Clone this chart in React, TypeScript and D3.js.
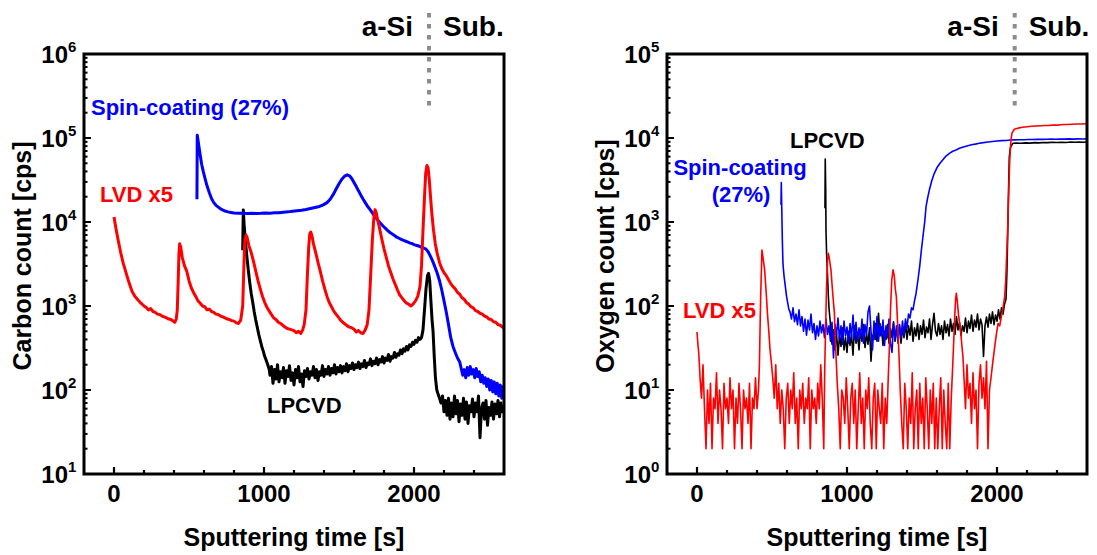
import React from 'react';
import * as d3 from 'd3';

type Pt = [number, number];

// ---------- Carbon (left panel) ----------
const carbonLVD: Pt[] = [
  [0, 11500], [15, 8000], [30, 5800], [45, 4300], [60, 3300], [80, 2500], [100, 1900], [120, 1500], [140, 1300],
  [160, 1180], [180, 1080], [200, 1000], [215, 960], [230, 900], [245, 930], [260, 860], [275, 840], [290, 800],
  [305, 790], [320, 760], [335, 740], [350, 720], [365, 700], [380, 690], [395, 660], [405, 640], [415, 700],
  [422, 900], [428, 2000], [433, 4200], [438, 5500], [445, 5000], [455, 3800], [470, 3000], [485, 2600], [500, 2000],
  [515, 1650], [530, 1450], [545, 1300], [560, 1150], [575, 1080], [590, 1000], [605, 980], [620, 900], [635, 920],
  [650, 860], [665, 840], [680, 800], [695, 790], [710, 760], [725, 740], [740, 720], [755, 700], [770, 690],
  [785, 670], [800, 660], [815, 630], [830, 620], [845, 680], [858, 1000], [866, 3000], [872, 6000], [880, 7000],
  [888, 6500], [900, 5200], [915, 4300], [930, 3400], [945, 2600], [960, 2000], [975, 1600], [990, 1300],
  [1005, 1100], [1020, 960], [1035, 870], [1050, 790], [1065, 720], [1080, 690], [1095, 640], [1110, 620],
  [1125, 590], [1140, 560], [1155, 540], [1170, 530], [1185, 520], [1200, 510], [1215, 480], [1230, 500],
  [1245, 470], [1258, 520], [1268, 600], [1280, 900], [1290, 2500], [1298, 5000], [1305, 7200], [1312, 7600],
  [1320, 6800], [1330, 5500], [1345, 4300], [1360, 3300], [1375, 2600], [1390, 2000], [1405, 1600], [1420, 1300],
  [1435, 1100], [1450, 980], [1465, 870], [1480, 800], [1495, 740], [1510, 680], [1525, 640], [1540, 610],
  [1555, 580], [1570, 560], [1585, 550], [1600, 530], [1615, 490], [1630, 510], [1645, 480], [1660, 470],
  [1675, 520], [1688, 600], [1700, 900], [1712, 2500], [1722, 6000], [1732, 11000], [1740, 14000], [1748, 13000],
  [1758, 10500], [1770, 8500], [1785, 6300], [1800, 4800], [1815, 3800], [1830, 3000], [1845, 2500], [1860, 2100],
  [1875, 1800], [1890, 1550], [1905, 1350], [1920, 1250], [1935, 1150], [1950, 1080], [1965, 1050], [1980, 1000],
  [1995, 1060], [2010, 1150], [2025, 1300], [2040, 1700], [2050, 3000], [2060, 8000], [2070, 20000], [2078, 38000],
  [2086, 47000], [2094, 44000], [2102, 32000], [2110, 20000], [2120, 12000], [2130, 8000], [2142, 5500],
  [2155, 4200], [2170, 3300], [2185, 2800], [2200, 2500], [2215, 2300], [2230, 2050], [2245, 1850], [2260, 1700],
  [2275, 1600], [2290, 1450], [2305, 1380], [2320, 1250], [2335, 1200], [2350, 1100], [2365, 1050], [2380, 980],
  [2395, 950], [2410, 880], [2425, 860], [2440, 820], [2455, 800], [2470, 760], [2485, 740], [2500, 700],
  [2515, 690], [2530, 650], [2545, 640], [2560, 600], [2575, 590], [2590, 560], [2600, 540],
];

const carbonSpin: Pt[] = [
  [553, 18600], [555, 108000], [560, 95000], [566, 80000], [575, 62000], [585, 48000], [595, 40000], [605, 34000],
  [620, 27000], [635, 22500], [650, 19000], [665, 17000], [680, 15800], [700, 14800], [720, 14000], [740, 13500],
  [760, 13200], [780, 13000], [800, 12800], [830, 12700], [860, 12750], [890, 12600], [920, 12700], [950, 12650],
  [980, 12700], [1010, 12800], [1040, 12750], [1070, 12900], [1100, 12900], [1130, 13100], [1160, 13200],
  [1190, 13400], [1220, 13600], [1250, 13800], [1280, 14100], [1310, 14500], [1340, 14900], [1370, 15300],
  [1395, 16000], [1420, 17000], [1440, 18500], [1460, 21000], [1480, 24500], [1500, 28500], [1520, 32500],
  [1540, 35500], [1555, 36500], [1570, 35500], [1585, 33000], [1600, 29500], [1615, 26500], [1630, 23500],
  [1645, 21000], [1660, 18800], [1675, 17000], [1690, 15400], [1705, 14200], [1720, 13000], [1735, 11900],
  [1750, 11000], [1765, 10200], [1780, 9500], [1795, 8900], [1810, 8400], [1825, 7900], [1840, 7500], [1855, 7200],
  [1870, 6900], [1885, 6600], [1900, 6400], [1915, 6200], [1930, 6050], [1945, 5900], [1960, 5750], [1975, 5600],
  [1990, 5500], [2005, 5350], [2020, 5250], [2035, 5150], [2050, 5000], [2065, 4900], [2080, 4750], [2095, 4400],
  [2110, 3900], [2125, 3400], [2140, 2900], [2155, 2450], [2170, 2000], [2185, 1550], [2200, 1150], [2215, 850],
  [2230, 600], [2245, 420], [2260, 330], [2275, 280], [2290, 240], [2305, 215], [2315, 180], [2325, 150],
  [2335, 175], [2345, 140], [2355, 185], [2365, 150], [2375, 190], [2385, 155], [2395, 175], [2405, 140],
  [2415, 180], [2425, 145], [2435, 165], [2445, 125], [2455, 150], [2465, 120], [2475, 140], [2485, 110],
  [2495, 135], [2505, 100], [2515, 130], [2525, 95], [2535, 125], [2545, 90], [2555, 120], [2565, 85],
  [2575, 115], [2585, 80], [2595, 110], [2600, 95],
];

const carbonLPCVD: Pt[] = [
  [858, 4600], [862, 13900], [868, 9000], [876, 6000], [885, 4000], [895, 2700], [905, 1900], [915, 1400],
  [925, 1100], [935, 850], [945, 680], [955, 560], [965, 460], [975, 390], [985, 330], [995, 290], [1005, 250],
  [1015, 225], [1025, 200], [1035, 175], [1040, 150], [1050, 190], [1060, 120], [1070, 175], [1080, 135],
  [1090, 200], [1100, 125], [1110, 165], [1120, 140], [1130, 185], [1140, 120], [1150, 170], [1160, 145],
  [1170, 195], [1180, 130], [1190, 160], [1200, 115], [1210, 175], [1220, 140], [1230, 190], [1240, 125],
  [1250, 155], [1260, 110], [1270, 170], [1280, 145], [1290, 180], [1300, 135], [1310, 165], [1320, 150],
  [1330, 190], [1340, 140], [1350, 175], [1360, 130], [1370, 165], [1380, 150], [1390, 195], [1400, 145],
  [1410, 175], [1420, 155], [1430, 190], [1440, 150], [1450, 180], [1460, 160], [1470, 200], [1480, 155],
  [1490, 185], [1500, 165], [1510, 195], [1520, 160], [1530, 190], [1540, 170], [1550, 205], [1560, 165],
  [1570, 195], [1580, 180], [1590, 210], [1600, 175], [1610, 200], [1620, 185], [1630, 215], [1640, 180],
  [1650, 205], [1660, 190], [1670, 225], [1680, 185], [1690, 210], [1700, 200], [1710, 235], [1720, 195],
  [1730, 220], [1740, 205], [1750, 240], [1760, 200], [1770, 230], [1780, 215], [1790, 250], [1800, 210],
  [1810, 240], [1820, 225], [1830, 265], [1840, 220], [1850, 250], [1860, 240], [1870, 280], [1880, 245],
  [1890, 270], [1900, 260], [1910, 300], [1920, 270], [1930, 310], [1940, 290], [1950, 330], [1960, 300],
  [1970, 345], [1980, 330], [1990, 370], [2000, 350], [2010, 390], [2020, 370], [2030, 420], [2040, 400],
  [2050, 420], [2060, 520], [2070, 900], [2080, 1600], [2090, 2300], [2097, 2450], [2105, 2000], [2112, 1200],
  [2120, 700], [2127, 500], [2135, 250], [2143, 140], [2152, 100], [2160, 90], [2170, 80], [2180, 70],
  [2190, 85], [2200, 55], [2210, 75], [2220, 50], [2230, 80], [2240, 45], [2250, 70], [2260, 48], [2270, 85],
  [2280, 52], [2290, 75], [2300, 42], [2310, 68], [2320, 50], [2330, 80], [2340, 45], [2350, 72], [2360, 40],
  [2370, 65], [2380, 55], [2390, 78], [2400, 48], [2410, 70], [2420, 55], [2430, 85], [2440, 27], [2450, 60],
  [2460, 70], [2470, 45], [2480, 75], [2490, 38], [2500, 62], [2510, 50], [2520, 72], [2530, 45], [2540, 68],
  [2550, 52], [2560, 75], [2570, 48], [2580, 70], [2590, 55], [2600, 65],
];

// ---------- Oxygen (right panel) ----------
const oxygenLVD: Pt[] = [
  [0, 49], [6, 35], [12, 27], [18, 17], [20, 14], [30, 8], [40, 20], [50, 6], [60, 2], [70, 10], [80, 4], [90, 12],
  [100, 2], [110, 8], [120, 6], [130, 16], [140, 4], [150, 10], [160, 6], [170, 2], [180, 12], [190, 6], [200, 8],
  [210, 4], [220, 14], [230, 6], [240, 10], [250, 2], [260, 8], [270, 4], [280, 12], [290, 6], [300, 2], [310, 10],
  [320, 6], [330, 8], [340, 4], [350, 12], [360, 2], [370, 8], [380, 6], [390, 14], [400, 6], [410, 10],
  [416, 20], [424, 120], [433, 464], [440, 380], [451, 269], [463, 129], [470, 80], [478, 52], [487, 30], [496, 21],
  [505, 14], [515, 8], [525, 20], [535, 6], [545, 12], [555, 4], [565, 10], [575, 6], [585, 2], [595, 8], [605, 12],
  [615, 4], [625, 10], [635, 6], [645, 16], [655, 4], [665, 8], [675, 2], [685, 10], [695, 6], [705, 12], [715, 4],
  [725, 8], [735, 6], [745, 14], [755, 2], [765, 10], [775, 6], [785, 8], [795, 4], [805, 12], [815, 6], [825, 20],
  [835, 8], [845, 2], [852, 20], [858, 60], [864, 180], [870, 350], [876, 424], [883, 360], [893, 269], [905, 140],
  [916, 82], [922, 40], [927, 25], [935, 12], [945, 6], [955, 2], [965, 10], [975, 8], [985, 4], [995, 14],
  [1005, 6], [1015, 2], [1025, 8], [1035, 12], [1045, 4], [1055, 10], [1065, 2], [1075, 6], [1085, 16], [1095, 4],
  [1105, 8], [1115, 2], [1125, 10], [1135, 6], [1145, 14], [1155, 4], [1165, 2], [1175, 8], [1185, 12], [1195, 2],
  [1205, 10], [1215, 6], [1225, 4], [1235, 12], [1245, 2], [1255, 8], [1265, 4], [1275, 14], [1282, 30],
  [1290, 90], [1298, 200], [1307, 269], [1315, 230], [1322, 160], [1329, 129], [1336, 70], [1342, 40], [1347, 25],
  [1355, 10], [1365, 4], [1375, 2], [1385, 12], [1395, 6], [1405, 2], [1415, 8], [1425, 4], [1435, 16], [1445, 2],
  [1455, 6], [1465, 10], [1475, 2], [1485, 12], [1495, 4], [1505, 8], [1515, 2], [1525, 14], [1535, 6], [1545, 2],
  [1555, 10], [1565, 4], [1575, 12], [1585, 2], [1595, 8], [1605, 2], [1615, 6], [1625, 14], [1635, 2], [1645, 10],
  [1655, 4], [1665, 2], [1675, 12], [1685, 2], [1695, 8], [1705, 20], [1712, 40], [1718, 75], [1724, 120],
  [1729, 142], [1736, 110], [1743, 80], [1751, 62], [1758, 50], [1765, 35], [1773, 25], [1780, 14], [1790, 6],
  [1800, 20], [1810, 8], [1820, 12], [1830, 4], [1840, 16], [1850, 6], [1860, 10], [1870, 2], [1880, 12],
  [1890, 20], [1900, 8], [1910, 14], [1920, 6], [1930, 22], [1940, 2], [1950, 10], [1960, 14], [1970, 20],
  [1985, 33], [1995, 45], [2007, 62], [2018, 58], [2029, 75], [2040, 95], [2051, 129], [2058, 200], [2063, 350],
  [2067, 508], [2071, 804], [2078, 2200], [2085, 5500], [2093, 9460], [2100, 11500], [2116, 12700], [2140, 13100],
  [2170, 13400], [2200, 13600], [2230, 13800], [2260, 13900], [2290, 14000], [2320, 14100], [2350, 14150],
  [2380, 14300], [2410, 14250], [2440, 14500], [2470, 14450], [2500, 14600], [2530, 14700], [2560, 14650],
  [2600, 14800],
];

const oxygenSpin: Pt[] = [
  [560, 1600], [562, 2940], [566, 1200], [569, 600], [573, 320], [580, 230], [589, 170], [597, 130], [605, 108],
  [612, 92], [620, 85], [630, 70], [640, 95], [650, 65], [660, 80], [670, 60], [680, 90], [690, 58], [700, 75],
  [710, 50], [720, 70], [730, 45], [740, 68], [750, 52], [760, 80], [770, 48], [780, 62], [790, 40], [800, 58],
  [810, 44], [820, 66], [830, 48], [840, 60], [850, 42], [860, 70], [870, 46], [880, 58], [890, 38], [900, 64],
  [910, 24], [920, 60], [930, 45], [940, 72], [950, 40], [960, 58], [970, 35], [980, 66], [990, 44], [1000, 56],
  [1010, 36], [1020, 62], [1030, 42], [1040, 78], [1050, 40], [1060, 64], [1070, 38], [1080, 55], [1090, 42],
  [1100, 70], [1110, 36], [1120, 60], [1130, 45], [1140, 85], [1150, 100], [1160, 50], [1170, 30], [1180, 66],
  [1190, 40], [1200, 75], [1210, 38], [1220, 62], [1230, 44], [1240, 68], [1250, 34], [1260, 58], [1270, 42],
  [1280, 70], [1290, 36], [1300, 28], [1310, 62], [1320, 40], [1330, 58], [1340, 36], [1350, 60], [1360, 42],
  [1370, 66], [1380, 45], [1390, 70], [1400, 55], [1410, 80], [1420, 72], [1430, 95], [1440, 90], [1450, 115],
  [1460, 140], [1473, 204], [1485, 300], [1496, 464], [1505, 640], [1518, 1000], [1527, 1520], [1538, 1950],
  [1549, 2400], [1565, 3100], [1582, 3800], [1600, 4450], [1620, 5000], [1638, 5470], [1660, 6100], [1685, 6600],
  [1705, 6950], [1727, 7200], [1750, 7550], [1775, 7800], [1800, 8050], [1830, 8300], [1855, 8450], [1882, 8650],
  [1910, 8800], [1940, 8950], [1970, 9100], [2000, 9200], [2030, 9300], [2060, 9350], [2090, 9450], [2120, 9500],
  [2150, 9550], [2180, 9520], [2210, 9600], [2240, 9580], [2270, 9650], [2300, 9620], [2330, 9680], [2360, 9700],
  [2390, 9650], [2420, 9720], [2450, 9700], [2480, 9750], [2510, 9700], [2540, 9760], [2570, 9720], [2600, 9750],
];

const oxygenLPCVD: Pt[] = [
  [853, 1456], [855, 5620], [858, 2500], [860, 800], [864, 420], [867, 322], [872, 190], [876, 129], [880, 95],
  [885, 75], [890, 60], [900, 35], [910, 52], [920, 30], [930, 48], [940, 26], [950, 45], [960, 33], [970, 55],
  [980, 30], [990, 42], [1000, 28], [1010, 50], [1020, 34], [1030, 46], [1040, 26], [1050, 58], [1060, 36],
  [1070, 48], [1080, 30], [1090, 52], [1100, 38], [1110, 60], [1120, 32], [1130, 47], [1140, 35], [1150, 55],
  [1160, 22], [1170, 45], [1180, 40], [1190, 62], [1200, 38], [1210, 82], [1220, 44], [1230, 56], [1240, 34],
  [1250, 50], [1260, 40], [1270, 60], [1280, 36], [1290, 54], [1300, 42], [1310, 65], [1320, 38], [1330, 52],
  [1340, 44], [1350, 58], [1360, 36], [1370, 55], [1380, 42], [1390, 62], [1400, 40], [1410, 58], [1420, 45],
  [1430, 66], [1440, 38], [1450, 55], [1460, 44], [1470, 62], [1480, 40], [1490, 58], [1500, 46], [1510, 68],
  [1520, 42], [1530, 56], [1540, 48], [1550, 70], [1560, 40], [1570, 60], [1580, 82], [1590, 50], [1600, 44],
  [1610, 62], [1620, 46], [1630, 58], [1640, 40], [1650, 66], [1660, 48], [1670, 60], [1680, 44], [1690, 70],
  [1700, 50], [1710, 62], [1720, 46], [1730, 75], [1740, 52], [1750, 64], [1760, 45], [1770, 58], [1780, 50],
  [1790, 72], [1800, 48], [1810, 66], [1820, 54], [1830, 78], [1840, 50], [1850, 68], [1860, 56], [1870, 80],
  [1880, 52], [1890, 70], [1900, 60], [1910, 25], [1920, 58], [1930, 74], [1940, 56], [1950, 80], [1960, 62],
  [1970, 85], [1980, 60], [1990, 78], [2000, 66], [2010, 90], [2020, 70], [2030, 95], [2040, 80], [2050, 105],
  [2060, 120], [2066, 250], [2071, 668], [2076, 2000], [2082, 5980], [2090, 7800], [2105, 8650], [2130, 8700],
  [2160, 8650], [2190, 8750], [2220, 8700], [2250, 8800], [2280, 8750], [2310, 8850], [2340, 8800], [2370, 8900],
  [2400, 8850], [2430, 8900], [2460, 8850], [2490, 8950], [2520, 8900], [2550, 8950], [2580, 8900], [2600, 8950],
];

const xDomain: [number, number] = [-200, 2600];
const xMajorTicks = [0, 1000, 2000];
const xMinorTicks = [200, 400, 600, 800, 1200, 1400, 1600, 1800, 2200, 2400];
const carbonDomain: [number, number] = [10, 1e6];
const oxygenDomain: [number, number] = [1, 1e5];
const boundaryTimes = [2100, 2118];

const RED = '#ff0000';
const BLUE = '#0000ff';
const BLACK = '#000000';
const FONT = '"Liberation Sans", Arial, Helvetica, sans-serif';

const PLOT_W = 420;
const PLOT_H = 420;
const PLOT_TOP = 54;

type Series = { data: Pt[]; color: string };
type Label = { text: string; x: number; y: number; color: string; anchor?: string };

function Panel(props: {
  id: string;
  left: number;
  yDomain: [number, number];
  yTitle: string;
  series: Series[];
  lineWidth: number;
  labels: Label[];
  boundary: number;
}) {
  const { id, left, yDomain, yTitle, series, lineWidth, labels, boundary } = props;
  const x = d3.scaleLinear().domain(xDomain).range([left, left + PLOT_W]);
  const y = d3.scaleLog().domain(yDomain).range([PLOT_TOP + PLOT_H, PLOT_TOP]);
  const line = d3
    .line<Pt>()
    .x((d) => x(d[0]))
    .y((d) => y(d[1]));
  const yTicks = y.ticks();
  const isMajor = (v: number) => Math.abs(Math.log10(v) - Math.round(Math.log10(v))) < 1e-9;
  const bottom = PLOT_TOP + PLOT_H;
  const bx = x(boundary);
  return (
    <g>
      <defs>
        <clipPath id={`clip-${id}`}>
          <rect x={left} y={PLOT_TOP} width={PLOT_W} height={PLOT_H} />
        </clipPath>
      </defs>
      <g clipPath={`url(#clip-${id})`}>
        {series.map((s, i) => (
          <path key={i} d={line(s.data) || ''} fill="none" stroke={s.color} strokeWidth={lineWidth} strokeLinejoin="round" />
        ))}
      </g>
      {/* frame */}
      <rect x={left} y={PLOT_TOP} width={PLOT_W} height={PLOT_H} fill="none" stroke="#000" strokeWidth={3} />
      {/* x ticks */}
      {xMajorTicks.map((t) => (
        <line key={`M${t}`} x1={x(t)} x2={x(t)} y1={bottom} y2={bottom - 7} stroke="#000" strokeWidth={2.2} />
      ))}
      {xMinorTicks.map((t) => (
        <line key={`m${t}`} x1={x(t)} x2={x(t)} y1={bottom} y2={bottom - 4} stroke="#000" strokeWidth={2.2} />
      ))}
      {xMajorTicks.map((t) => (
        <text key={`L${t}`} x={x(t)} y={502} textAnchor="middle" fontFamily={FONT} fontWeight="bold" fontSize={24}>
          {t}
        </text>
      ))}
      {/* y ticks */}
      {yTicks.map((v, i) => (
        <line
          key={`y${i}`}
          x1={left}
          x2={left + (isMajor(v) ? 7 : 3.5)}
          y1={y(v)}
          y2={y(v)}
          stroke="#000"
          strokeWidth={2}
        />
      ))}
      {yTicks.filter(isMajor).map((v, i) => (
        <g key={`yl${i}`}>
          <text x={left - 16} y={y(v) + 8.5} textAnchor="end" fontFamily={FONT} fontWeight="bold" fontSize={24}>
            10
          </text>
          <text x={left - 16} y={y(v) - 2.5} textAnchor="start" fontFamily={FONT} fontWeight="bold" fontSize={15}>
            {Math.round(Math.log10(v))}
          </text>
        </g>
      ))}
      {/* axis titles */}
      <text x={left + PLOT_W / 2} y={546} textAnchor="middle" fontFamily={FONT} fontWeight="bold" fontSize={25}>
        Sputtering time [s]
      </text>
      <text
        transform={`translate(${left - 53},${256}) rotate(-90)`}
        textAnchor="middle"
        fontFamily={FONT}
        fontWeight="bold"
        fontSize={25}
      >
        {yTitle}
      </text>
      {/* layer boundary */}
      <line x1={bx} x2={bx} y1={13} y2={107} stroke="#8c8c8c" strokeWidth={4} strokeDasharray="4.5 6.5" />
      <text x={bx - 16} y={36} textAnchor="end" fontFamily={FONT} fontWeight="bold" fontSize={28}>
        a-Si
      </text>
      <text x={bx + 14} y={36} textAnchor="start" fontFamily={FONT} fontWeight="bold" fontSize={28}>
        Sub.
      </text>
      {labels.map((l, i) => (
        <text
          key={`lab${i}`}
          x={l.x}
          y={l.y}
          fill={l.color}
          textAnchor={l.anchor || 'start'}
          fontFamily={FONT}
          fontWeight="bold"
          fontSize={22}
        >
          {l.text}
        </text>
      ))}
    </g>
  );
}

export default function App() {
  return (
    <svg width={1097} height={555} style={{ position: 'absolute', left: 0, top: 0, background: '#fff' }}>
      <rect x={0} y={0} width={1097} height={555} fill="#fff" />
      <Panel
        id="carbon"
        left={84}
        yDomain={carbonDomain}
        yTitle="Carbon count [cps]"
        lineWidth={3}
        boundary={boundaryTimes[0]}
        series={[
          { data: carbonLPCVD, color: BLACK },
          { data: carbonSpin, color: BLUE },
          { data: carbonLVD, color: RED },
        ]}
        labels={[
          { text: 'Spin-coating (27%)', x: 91, y: 115, color: BLUE },
          { text: 'LVD x5', x: 100, y: 202, color: RED },
          { text: 'LPCVD', x: 267, y: 413, color: BLACK },
        ]}
      />
      <Panel
        id="oxygen"
        left={667}
        yDomain={oxygenDomain}
        yTitle="Oxygen count [cps]"
        lineWidth={1.6}
        boundary={boundaryTimes[1]}
        series={[
          { data: oxygenLPCVD, color: BLACK },
          { data: oxygenSpin, color: BLUE },
          { data: oxygenLVD, color: RED },
        ]}
        labels={[
          { text: 'LPCVD', x: 790, y: 148, color: BLACK },
          { text: 'Spin-coating', x: 740, y: 175, color: BLUE, anchor: 'middle' },
          { text: '(27%)', x: 741, y: 202, color: BLUE, anchor: 'middle' },
          { text: 'LVD x5', x: 683, y: 318, color: RED },
        ]}
      />
    </svg>
  );
}
